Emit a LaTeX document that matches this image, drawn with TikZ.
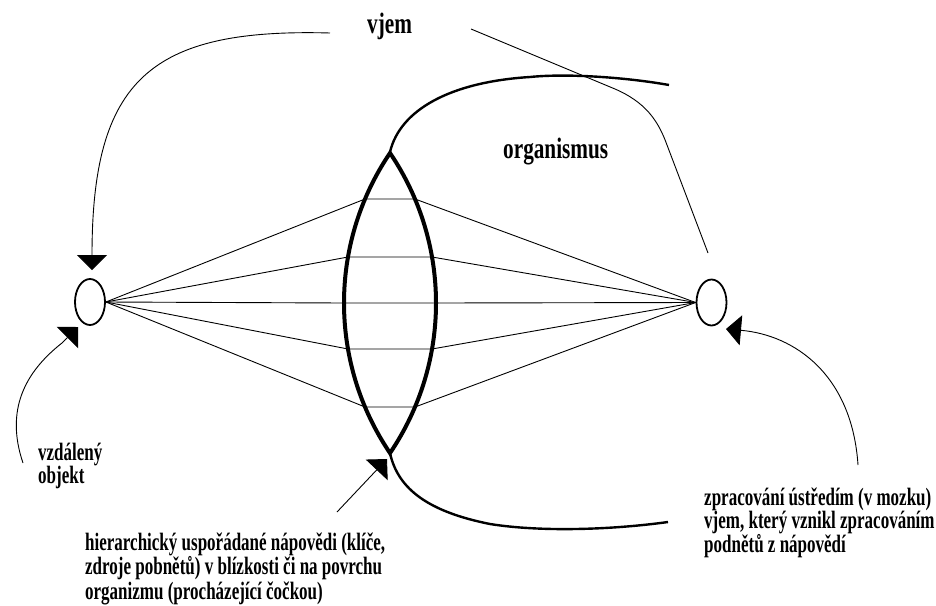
\documentclass[tikz,border=0pt]{standalone}
\usepackage{fontspec}
\newfontfamily\tnr[FakeStretch=0.72]{Liberation Serif}
\newfontfamily\tnrn[FakeStretch=0.68]{Liberation Serif}
\usetikzlibrary{arrows.meta,shapes.geometric}
\begin{document}
\begin{tikzpicture}[x=1pt,y=-1pt,
  thinline/.style={line width=0.9pt, black},
  arr/.style={thinline,-{Triangle[width=30pt,length=15pt]}},
  thickcurve/.style={line width=2.4pt, black},
  lab/.style={font=\tnr\bfseries\fontsize{29.5}{30}\selectfont, inner sep=0pt, anchor=base west},
  note/.style={font=\tnrn\bfseries\fontsize{25}{#1}\selectfont, inner sep=0pt, anchor=base west, align=left},
  eye/.style={ellipse, draw, line width=1.8pt, inner sep=0pt, minimum width=30pt, minimum height=46pt},
]
\useasboundingbox[fill=white] (0,0) rectangle (936,605);

% eyes / objects
\node[eye] (objL) at (90,302) {};
\node[eye] (objR) at (711.5,302.5) {};

% lens
\draw[line width=4pt, line join=miter] (390,153) arc[start angle=214.1, end angle=145.9, radius=267.6]
  arc[start angle=34.1, end angle=-34.1, radius=267.6] -- cycle;

% chord ends
\coordinate (l1) at (365,199); \coordinate (r1) at (415,199);
\coordinate (l2) at (348,257); \coordinate (r2) at (432,257);
\coordinate (l3) at (344,303); \coordinate (r3) at (436,303);
\coordinate (l4) at (348,349); \coordinate (r4) at (432,349);
\coordinate (l5) at (365,407); \coordinate (r5) at (415,407);
\foreach \i in {1,...,5}{
  \draw[thinline] (objL.east) -- (l\i) -- (r\i) -- (objR.west);
}

% organism surface curves
\draw[thickcurve] (390,152) .. controls (400,110) and (450,82) .. (530,77)
  .. controls (570,73) and (630,78) .. (669,85);
\draw[thickcurve] (390,453) .. controls (398,490) and (430,512) .. (490,524)
  .. controls (540,532) and (610,530) .. (668,522);

% labels
\node[lab] (vjem) at (367,33) {vjem};
\node[lab] (org) at (503,158) {organismus};
\node[note=23] (obj) at (38,483) {vzdálený\\objekt};
\node[note=24.5] (cues) at (85,599) {hierarchický uspořádané nápovědi (klíče,\\zdroje pobnětů) v blízkosti či na povrchu\\organizmu (procházející čočkou)};
\node[note=23.5] (proc) at (704,552) {zpracování ústředím (v mozku)\\vjem, který vznikl zpracováním\\podnětů z nápovědí};

% connectors
\coordinate (a1) at (330,33);
\coordinate (a1t) at (92,270);
\draw[arr] (a1) .. controls (150,28) and (92,80) .. (a1t);

\coordinate (v1) at (471,29);
\coordinate (v2) at (708,253);
\draw[thinline] (v1) -- (615,89) .. controls (645,102) and (658,120) .. (667,145) -- (v2);

\coordinate (b1) at (23,463);
\coordinate (b1t) at (78,327);
\draw[arr] (b1) .. controls (5,410) and (25,372) .. (62,343) -- (b1t);

\coordinate (c1) at (337,512);
\coordinate (c1t) at (387,459);
\draw[arr] (c1) -- (c1t);

\coordinate (d1) at (858,465);
\coordinate (d1t) at (726,329);
\draw[arr] (d1) .. controls (852,375) and (795,335) .. (d1t);
\end{tikzpicture}
\end{document}
